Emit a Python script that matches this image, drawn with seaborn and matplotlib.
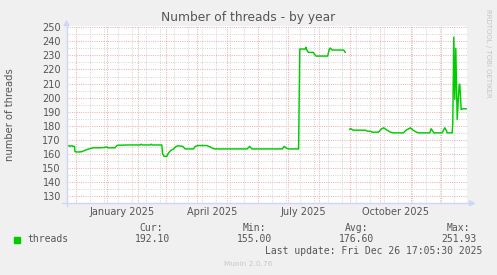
import numpy as np
import pandas as pd
import matplotlib
matplotlib.use("Agg")
import matplotlib.pyplot as plt
import matplotlib.dates as mdates
from matplotlib.ticker import FixedLocator, NullFormatter
from matplotlib.lines import Line2D
from matplotlib.patches import Polygon, Rectangle
import seaborn as sns

# ---------------- data ----------------
END = pd.Timestamp("2025-12-26 17:05:30")
START = END - pd.Timedelta(days=400)

# days since window start, value (segment 1: until the August gap)
seg1_days = [0.5, 2.5, 3.5, 5.5, 6.5, 8.0, 8.5, 11.5, 15.2, 18.5, 21.5, 23.5, 26.5, 33.5,
             37.5, 40.2, 41.5, 48.5, 50.2, 51.5, 61.5, 73.5, 74.5, 75.5, 83.5, 84.5, 85.5,
             95.2, 96.0, 97.5, 100.2, 101.8, 104.2, 106.8, 109.5, 111.5, 116.2, 118.5,
             126.8, 128.5, 131.5, 140.2, 143.5, 146.8, 148.5, 180.5, 182.8, 185.2, 215.5,
             217.5, 219.5, 221.5, 231.8, 233.0, 238.5, 239.2, 240.0, 241.5, 246.5, 247.5,
             249.2, 260.8, 262.5, 263.5, 265.2, 276.8, 278.5]
seg1_vals = [165.4, 166.0, 165.4, 166.0, 165.4, 165.4, 161.6, 161.4, 161.6, 162.6, 163.4,
             163.8, 164.4, 164.4, 164.6, 165.0, 164.4, 164.4, 166.0, 166.2, 166.4, 166.4,
             166.9, 166.4, 166.4, 166.9, 166.4, 166.4, 160.0, 158.3, 158.3, 160.7, 162.6,
             163.5, 165.4, 165.8, 165.4, 163.6, 163.6, 165.4, 166.0, 166.0, 165.0, 163.8,
             163.6, 163.6, 165.4, 163.6, 163.6, 165.4, 164.2, 163.6, 163.6, 234.5, 234.5,
             235.7, 233.8, 232.1, 232.1, 230.9, 229.5, 229.5, 234.5, 235.2, 233.8, 233.8,
             232.0]
# segment 2: after the gap
seg2_days = [282.8, 283.5, 286.5, 298.5, 300.5, 303.5, 305.2, 311.8, 314.2, 316.8, 320.2,
             323.5, 326.5, 336.5, 339.2, 343.5, 346.2, 349.5, 351.5, 362.8, 364.2, 365.5,
             366.8, 375.2, 377.8, 379.5, 380.2, 385.2, 385.8, 386.8, 387.8, 388.8, 390.2,
             392.2, 392.8, 394.2, 396.2, 399.5]
seg2_vals = [177.4, 178.1, 176.9, 176.9, 176.2, 176.2, 175.5, 175.5, 177.6, 178.6, 176.9,
             175.5, 175.0, 175.0, 176.9, 178.6, 176.9, 175.5, 175.0, 175.0, 177.9, 176.5,
             175.0, 175.0, 178.6, 176.5, 175.0, 175.0, 182.0, 242.9, 198.8, 235.0, 184.5,
             209.5, 209.5, 191.6, 192.1, 192.1]

y_ticks = [130, 140, 150, 160, 170, 180, 190, 200, 210, 220, 230, 240, 250]
x_label_months = ["2025-01-01", "2025-04-01", "2025-07-01", "2025-10-01"]
x_label_texts = ["January 2025", "April 2025", "July 2025", "October 2025"]

legend_name = "threads"
stat_heads = ["Cur:", "Min:", "Avg:", "Max:"]
stat_vals = ["192.10", "155.00", "176.60", "251.93"]
last_update = "Last update: Fri Dec 26 17:05:30 2025"

# ---------------- figure ----------------
W, H = 497, 275
BG = "#F0F0F0"
FONT_C = "#555555"
LINE_C = "#00CC00"
AXIS_C = "#CFD6F8"
MGRID_C = "#EBB2B2"
GRID_C = "#D6D6D6"

sns.set_style("white")
plt.rcParams["font.family"] = ["DejaVu Sans"]
plt.rcParams["lines.scale_dashes"] = False

fig = plt.figure(figsize=(W / 100, H / 100), dpi=100, facecolor=BG)

ax_l, ax_r, ax_t, ax_b = 66.5, 467.0, 25.5, 203.3
ax = fig.add_axes([ax_l / W, 1 - ax_b / H, (ax_r - ax_l) / W, (ax_b - ax_t) / H])
ax.set_facecolor("white")

t0 = mdates.date2num(START.to_pydatetime())
df = pd.DataFrame({
    "x": [t0 + d for d in seg1_days] + [t0 + d for d in seg2_days],
    "y": seg1_vals + seg2_vals,
    "seg": [1] * len(seg1_days) + [2] * len(seg2_days),
})
sns.lineplot(data=df, x="x", y="y", units="seg", estimator=None, color=LINE_C,
             lw=1.05, ax=ax, legend=False, zorder=5)

ax.set_xlim(t0, mdates.date2num(END.to_pydatetime()))
ax.set_ylim(125, 251.2)

# grid
dots = (0, (0.72, 0.9))
month_starts = pd.date_range("2024-12-01", END, freq="MS")
minor_x = pd.date_range("2024-12-15", END, freq="14D")
ax.xaxis.set_major_locator(FixedLocator(mdates.date2num(month_starts.to_pydatetime())))
ax.xaxis.set_minor_locator(FixedLocator(mdates.date2num(minor_x.to_pydatetime())))
ax.xaxis.set_major_formatter(NullFormatter())
ax.set_yticks(y_ticks)
ax.yaxis.set_minor_locator(FixedLocator([v + 5 for v in y_ticks[:-1]]))
ax.set_yticklabels([str(v) for v in y_ticks])

ax.grid(which="minor", color=GRID_C, linestyle=dots, lw=0.75, zorder=1)
ax.grid(which="major", color=MGRID_C, linestyle=dots, lw=0.75, zorder=2)
ax.set_axisbelow(True)

ax.tick_params(axis="x", which="major", length=2.5, width=0.75, color=MGRID_C,
               direction="out", labelbottom=False)
ax.tick_params(axis="x", which="minor", length=2.5, width=0.75, color=GRID_C,
               direction="out")
ax.tick_params(axis="y", which="major", length=1.5, width=0.75, color=MGRID_C,
               labelsize=7, labelcolor=FONT_C, pad=2.5)
ax.tick_params(axis="y", which="minor", length=1.5, width=0.75, color=GRID_C)

ax.set_xlabel("")
ax.set_ylabel("")
for s in ax.spines.values():
    s.set_visible(False)

# month labels centered on month middle
for m, txt in zip(x_label_months, x_label_texts):
    ms = pd.Timestamp(m)
    me = ms + pd.offsets.MonthBegin(1)
    mid = mdates.date2num((ms + (me - ms) / 2).to_pydatetime())
    ax.text(mid, -(212 - ax_b) / (ax_b - ax_t), txt, transform=ax.get_xaxis_transform(),
            ha="center", va="center", fontsize=7, color=FONT_C)


def P(x, y):
    return (x / W, 1 - y / H)


# axes lines with arrows
fig.add_artist(Line2D([P(66.5, 0)[0]] * 2, [P(0, 205.7)[1], P(0, 24.5)[1]],
                      transform=fig.transFigure, color=AXIS_C, lw=1.0))
fig.add_artist(Line2D([P(62, 0)[0], P(470, 0)[0]], [P(0, ax_b)[1]] * 2,
                      transform=fig.transFigure, color=AXIS_C, lw=1.0))
fig.add_artist(Polygon([P(64.0, 25.7), P(69.0, 25.7), P(66.5, 21.0)], closed=True,
                       transform=fig.transFigure, color=AXIS_C))
fig.add_artist(Polygon([P(469.5, ax_b - 2.5), P(469.5, ax_b + 2.5), P(474.5, ax_b)],
                       closed=True, transform=fig.transFigure, color=AXIS_C))

# titles
fig.text(*P(248, 18), "Number of threads - by year", ha="center", va="center",
         fontsize=8.8, color=FONT_C)
fig.text(*P(10, 115), "number of threads", rotation=90, ha="center", va="center",
         fontsize=7.2, color=FONT_C)
fig.text(*P(488, 53), "RRDTOOL / TOBI OETIKER", rotation=-90, ha="center", va="center",
         fontsize=5, color="#C4C4C4")

# legend
fig.add_artist(Rectangle(P(14, 242.5), 6 / W, 6 / H, transform=fig.transFigure,
                         color=LINE_C))
mono = {"family": "DejaVu Sans Mono", "size": 7, "color": FONT_C}
fig.text(*P(27, 239.5), legend_name, ha="left", va="center", fontdict=mono)
head_right = [163, 266, 368, 470]
val_right = [170, 272, 374, 477]
for h, v, hr, vr in zip(stat_heads, stat_vals, head_right, val_right):
    fig.text(*P(hr, 227.7), h, ha="right", va="center", fontdict=mono)
    fig.text(*P(vr, 239.5), v, ha="right", va="center", fontdict=mono)
fig.text(*P(482, 251.2), last_update, ha="right", va="center", fontdict=mono)
fig.text(*P(248, 264.5), "Munin 2.0.76", ha="center", va="center", fontsize=5.3,
         color="#C8C8C8")

fig.savefig("out.png", dpi=100, facecolor=BG)
